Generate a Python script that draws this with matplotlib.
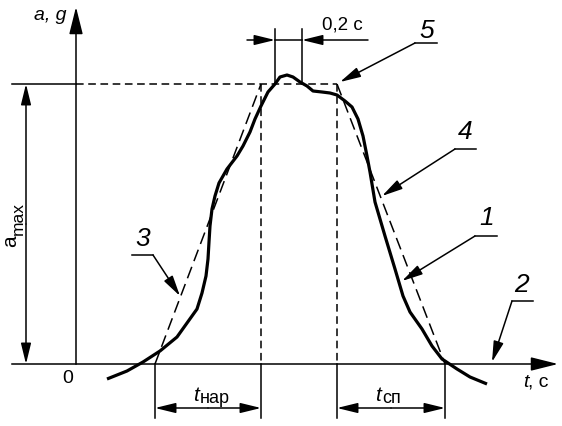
import matplotlib
matplotlib.use("Agg")
import matplotlib.pyplot as plt

plt.rcParams['font.family'] = ['Liberation Sans', 'DejaVu Sans']

# diagram coordinates (drawing units, y grows downward)
t_curve = [107, 127, 143, 160, 177, 187, 197, 202, 206, 208, 209, 210, 212, 215,
           219, 227, 237, 243, 250, 255, 261, 268, 275, 280, 287, 293, 300, 307,
           313, 322, 330, 337, 345, 352, 358, 363, 367, 370, 375, 385, 395, 403,
           410, 422, 432, 442, 457, 470, 487]
a_curve = [380, 372, 363, 352, 338, 324, 310, 294, 277, 260, 243, 227, 210, 197,
           184, 170, 157, 147, 133, 120, 107, 93, 85, 78, 76, 78, 83, 87,
           92, 93, 94, 96, 102, 108, 120, 137, 157, 173, 203, 237, 270, 297,
           313, 330, 347, 360, 370, 378, 385]

y_zero = 365      # level a = 0
y_max = 85        # level a_max
x_origin = 76     # t = 0
t_rise = [155, 261]    # start / end of rise (t_нар)
t_fall = [337, 445]    # start / end of fall (t_сп)
t_peak = [275, 302]    # 0,2 s window

fig = plt.figure(figsize=(5.62, 4.27), dpi=100)
ax = fig.add_axes([0, 0, 1, 1])
ax.set_xlim(0, 562)
ax.set_ylim(427, 0)
ax.axis('off')

thin = 1.1
ah = dict(arrowstyle='-|>,head_length=0.9,head_width=0.22', color='black', lw=thin,
          shrinkA=0, shrinkB=0, mutation_scale=14)
big = dict(ah, arrowstyle='-|>,head_length=1.2,head_width=0.3')

# axes
ax.plot([12, 545], [y_zero, y_zero], color='black', lw=thin)
ax.annotate('', xy=(558, y_zero), xytext=(540, y_zero), arrowprops=big)
ax.plot([x_origin, x_origin], [y_zero, 20], color='black', lw=thin)
ax.annotate('', xy=(x_origin, 8), xytext=(x_origin, 26), arrowprops=big)

# a_max level
ax.plot([12, x_origin], [y_max, y_max], color='black', lw=thin)
ax.plot([x_origin, t_fall[0]], [y_max, y_max], color='black', lw=thin, ls=(0, (5, 3)))
ax.annotate('', xy=(26, y_max), xytext=(26, 225), arrowprops=ah)
ax.annotate('', xy=(26, y_zero), xytext=(26, 225), arrowprops=ah)

# trapezoid approximation
ax.plot([t_rise[0], t_rise[1]], [y_zero, y_max], color='black', lw=thin, ls=(0, (8, 4)))
ax.plot([t_fall[0], t_fall[1]], [y_max, y_zero], color='black', lw=thin, ls=(0, (8, 4)))
for x in [t_rise[1], t_fall[0]]:
    ax.plot([x, x], [y_max, y_zero], color='black', lw=thin, ls=(0, (5, 3)))
for x in [t_rise[0], t_rise[1], t_fall[0], t_fall[1]]:
    ax.plot([x, x], [y_zero, 419], color='black', lw=thin)

# duration dimensions
for a, b in [t_rise, t_fall]:
    m = (a + b) / 2
    ax.annotate('', xy=(a, 409), xytext=(m, 409), arrowprops=ah)
    ax.annotate('', xy=(b, 409), xytext=(m, 409), arrowprops=ah)

# 0,2 s dimension
for x in t_peak:
    ax.plot([x, x], [y_max, 30], color='black', lw=thin)
ax.annotate('', xy=(t_peak[0], 41), xytext=(247, 41), arrowprops=ah)
ax.annotate('', xy=(t_peak[1], 41), xytext=(368, 41), arrowprops=ah)
ax.plot([t_peak[0], t_peak[1]], [41, 41], color='black', lw=thin)

# measured curve
ax.plot(t_curve, a_curve, color='black', lw=2.3, solid_joinstyle='round',
        solid_capstyle='butt')

# leaders: (label, text pos, underline start, underline end, arrow tip)
leaders = [('5', (427, 31), (415, 44), (437, 44), (340, 83)),
           ('4', (465, 132), (455, 150), (476, 150), (382, 197)),
           ('1', (487, 218), (475, 237), (497, 237), (402, 282)),
           ('2', (521, 285), (512, 302), (533, 302), (492, 363)),
           ('3', (143, 239), (132, 256), (153, 256), (180, 297))]
for lab, tp, u0, u1, tip in leaders:
    ax.plot([u0[0], u1[0]], [u0[1], u1[1]], color='black', lw=thin)
    start = u0 if lab != '3' else u1
    ax.annotate('', xy=tip, xytext=start, arrowprops=ah)
    ax.text(tp[0], tp[1], lab, fontsize=19, style='italic', ha='center', va='center')

# labels
ax.text(50, 15, 'a, g', fontsize=14, style='italic', ha='center', va='center')
ax.text(68, 379, '0', fontsize=14, ha='center', va='center')
ax.text(523, 387, 't', fontsize=14, style='italic', ha='left', va='baseline')
ax.text(528, 387, ', с', fontsize=14, ha='left', va='baseline')
ax.text(342, 25, '0,2 с', fontsize=13.5, ha='center', va='center')

# a_max, read bottom to top
ax.text(16, 247, 'a', fontsize=15, rotation=90, ha='left', va='baseline',
        rotation_mode='anchor')
ax.text(23, 235, 'max', fontsize=12.5, rotation=90, ha='left', va='baseline',
        rotation_mode='anchor')

ax.text(193, 401, 't', fontsize=15, style='italic', ha='left', va='baseline')
ax.text(200, 403, 'нар', fontsize=13, ha='left', va='baseline')
ax.text(375, 401, 't', fontsize=15, style='italic', ha='left', va='baseline')
ax.text(382, 403, 'сп', fontsize=13, ha='left', va='baseline')

fig.savefig('out.png', dpi=100, facecolor='white')
